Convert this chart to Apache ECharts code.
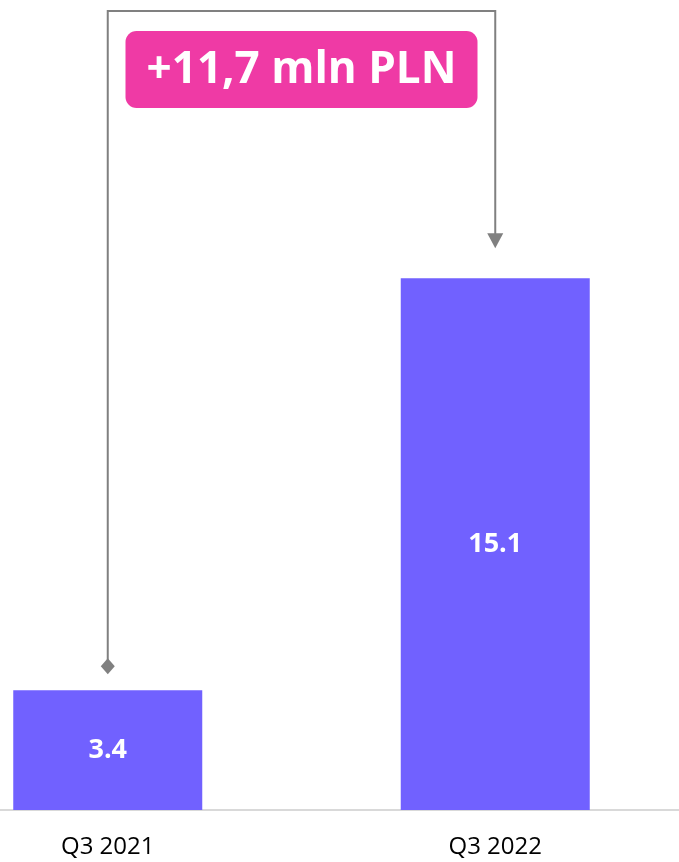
<!DOCTYPE html>
<html lang="en">
<head>
    <meta charset="UTF-8"/>
    <title>Q3 comparison</title>
    <script src="https://cdn.jsdelivr.net/npm/echarts@6/dist/echarts.min.js"></script>
    <style>
        html, body { margin: 0; padding: 0; background: #fff; }
    </style>
</head>
<body>

<div id="main" style="width:679px; height:862px;"></div>
<script type="text/javascript">

    var categories = ['Q3 2021', 'Q3 2022'];
    var values = [3.4, 15.1];
    var deltaLabel = '+11,7 mln PLN';

    var myChart = echarts.init(document.getElementById('main'));

    var option = {
        animation: false,
        grid: { left: -86, right: -10, top: 0, bottom: 52, outerBoundsMode: 'none' },
        xAxis: {
            type: 'category',
            data: categories,
            axisTick: { show: false },
            axisLine: { lineStyle: { color: '#d9d9d9', width: 2 } },
            axisLabel: {
                color: '#000',
                fontSize: 24,
                fontFamily: 'Open Sans',
                margin: 25
            }
        },
        yAxis: {
            type: 'value',
            min: 0,
            max: 23,
            show: false,
            splitLine: { show: false }
        },
        series: [
            {
                type: 'bar',
                data: values,
                barWidth: 189,
                itemStyle: { color: '#7161FF' },
                label: {
                    show: true,
                    position: 'inside',
                    color: '#fff',
                    fontSize: 27,
                    fontWeight: 'bold',
                    fontFamily: 'Open Sans'
                }
            }
        ]
    };

    myChart.setOption(option);

    // connector annotation, placed from the bar positions
    var p0 = myChart.convertToPixel({ gridIndex: 0 }, [categories[0], values[0]]);
    var p1 = myChart.convertToPixel({ gridIndex: 0 }, [categories[1], values[1]]);
    var topY = 11;
    var dY = p0[1] - 24;   // diamond centre
    var aY = p1[1] - 30;   // arrow tip
    var grey = '#808080';

    myChart.setOption({
        graphic: [
            {
                type: 'polyline',
                shape: { points: [[p0[0], dY - 6], [p0[0], topY], [p1[0], topY], [p1[0], aY - 12]] },
                style: { stroke: grey, lineWidth: 2, fill: null }
            },
            {
                type: 'polygon',
                shape: { points: [[p0[0], dY - 8], [p0[0] + 7, dY], [p0[0], dY + 8], [p0[0] - 7, dY]] },
                style: { fill: grey }
            },
            {
                type: 'polygon',
                shape: { points: [[p1[0] - 8, aY - 15], [p1[0] + 8, aY - 15], [p1[0], aY]] },
                style: { fill: grey }
            },
            {
                type: 'rect',
                shape: { x: (p0[0] + p1[0]) / 2 - 176, y: 31, width: 352, height: 77, r: 11 },
                style: { fill: '#EF3AA5' }
            },
            {
                type: 'text',
                x: (p0[0] + p1[0]) / 2,
                y: 70,
                style: {
                    text: deltaLabel,
                    fill: '#fff',
                    font: 'bold 44px "Open Sans"',
                    align: 'center',
                    verticalAlign: 'middle'
                }
            }
        ]
    });
</script>

</body>
</html>
